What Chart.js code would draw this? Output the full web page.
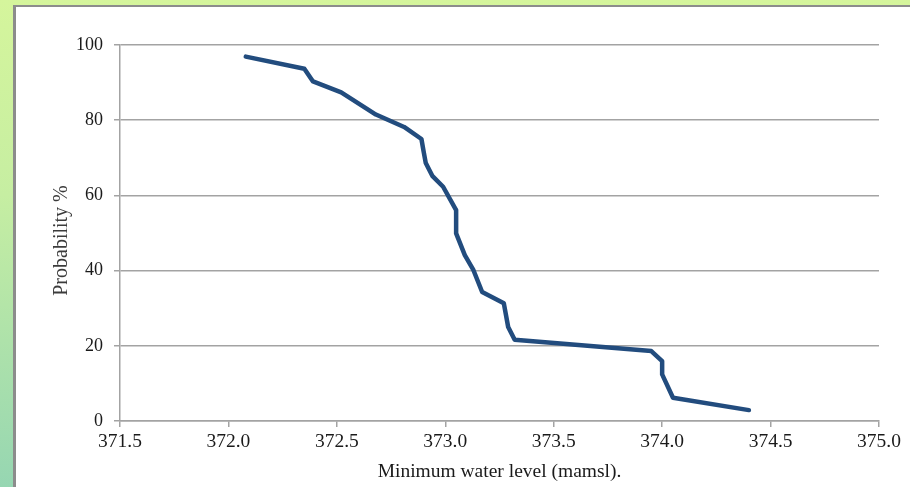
<!DOCTYPE html>
<html>
<head>
<meta charset="utf-8">
<script src="https://cdn.jsdelivr.net/npm/chart.js@4"></script>
<style>
  html, body { margin: 0; padding: 0; }
  body { width: 910px; height: 487px; position: relative; overflow: hidden;
         background: linear-gradient(to bottom, #d5f59c 0%, #c6eea2 40%, #96d6b2 100%); }
  #panel { position: absolute; left: 13px; top: 5px; right: 0; bottom: 0;
           background: #ffffff; border-left: 3px solid #8c8c8c; border-top: 2px solid #8c8c8c; }
  #wrap { position: absolute; left: 0; top: 0; width: 910px; height: 487px; }
</style>
</head>
<body>
<div id="panel"></div>
<div id="wrap"><canvas id="c" width="910" height="487"></canvas></div>
<script>
// Data
const waterLevel = [372.08, 372.35, 372.39, 372.52, 372.68, 372.81, 372.89, 372.90, 372.91, 372.94, 372.99, 373.05, 373.05, 373.09, 373.13, 373.17, 373.27, 373.29, 373.32, 373.95, 374.00, 374.00, 374.05, 374.40];
const probability = [96.9, 93.7, 90.3, 87.4, 81.5, 78.2, 75.0, 71.7, 68.6, 65.2, 62.3, 56.1, 49.9, 44.1, 40.1, 34.3, 31.3, 25.0, 21.6, 18.6, 15.9, 12.4, 6.2, 2.9];
const xTickValues = [371.5, 372.0, 372.5, 373.0, 373.5, 374.0, 374.5, 375.0];
const yTickValues = [0, 20, 40, 60, 80, 100];
const xTitle = "Minimum water level (mamsl).";
const yTitle = "Probability %   ";

const points = waterLevel.map((x, i) => ({ x: x, y: probability[i] }));
const gridGrey = '#a3a3a3';
const yFont = { family: 'Liberation Serif', size: 18 };
const xFont = { family: 'Liberation Serif', size: 19.5 };
const yTitleFont = { family: 'Liberation Serif', size: 20 };

new Chart(document.getElementById('c'), {
  type: 'line',
  data: {
    datasets: [{
      data: points,
      borderColor: '#224c7e',
      borderWidth: 4.5,
      pointRadius: 0,
      tension: 0,
      fill: false,
      borderCapStyle: 'round',
      borderJoinStyle: 'round'
    }]
  },
  options: {
    responsive: false,
    animation: false,
    devicePixelRatio: 1,
    layout: { padding: { top: 45, right: 31, left: 0, bottom: 0 } },
    plugins: { legend: { display: false }, tooltip: { enabled: false } },
    scales: {
      x: {
        type: 'linear',
        min: xTickValues[0],
        max: xTickValues[xTickValues.length - 1],
        afterBuildTicks: (s) => { s.ticks = xTickValues.map(v => ({ value: v })); },
        afterFit: (s) => { s.height = 66; },
        ticks: {
          color: '#1a1a1a', font: xFont, padding: 3, maxRotation: 0,
          callback: (v) => Number(v).toFixed(1)
        },
        grid: { drawOnChartArea: false, color: gridGrey, lineWidth: 1.5, tickLength: 6 },
        border: { display: true, color: gridGrey, width: 1.5 },
        title: { display: true, text: xTitle, color: '#1a1a1a', font: xFont, padding: { top: 0, bottom: 3 } }
      },
      y: {
        type: 'linear',
        min: 0,
        max: 100,
        afterBuildTicks: (s) => { s.ticks = yTickValues.map(v => ({ value: v })); },
        afterFit: (s) => { s.width = 120; },
        ticks: { color: '#1a1a1a', font: yFont, padding: 11 },
        grid: { color: gridGrey, lineWidth: 1.5, tickLength: 6 },
        border: { display: true, color: gridGrey, width: 1.5 },
        title: { display: true, text: yTitle, color: '#3c3c3c', font: yTitleFont, padding: { top: 50, bottom: 0 } }
      }
    }
  }
});
</script>
</body>
</html>
